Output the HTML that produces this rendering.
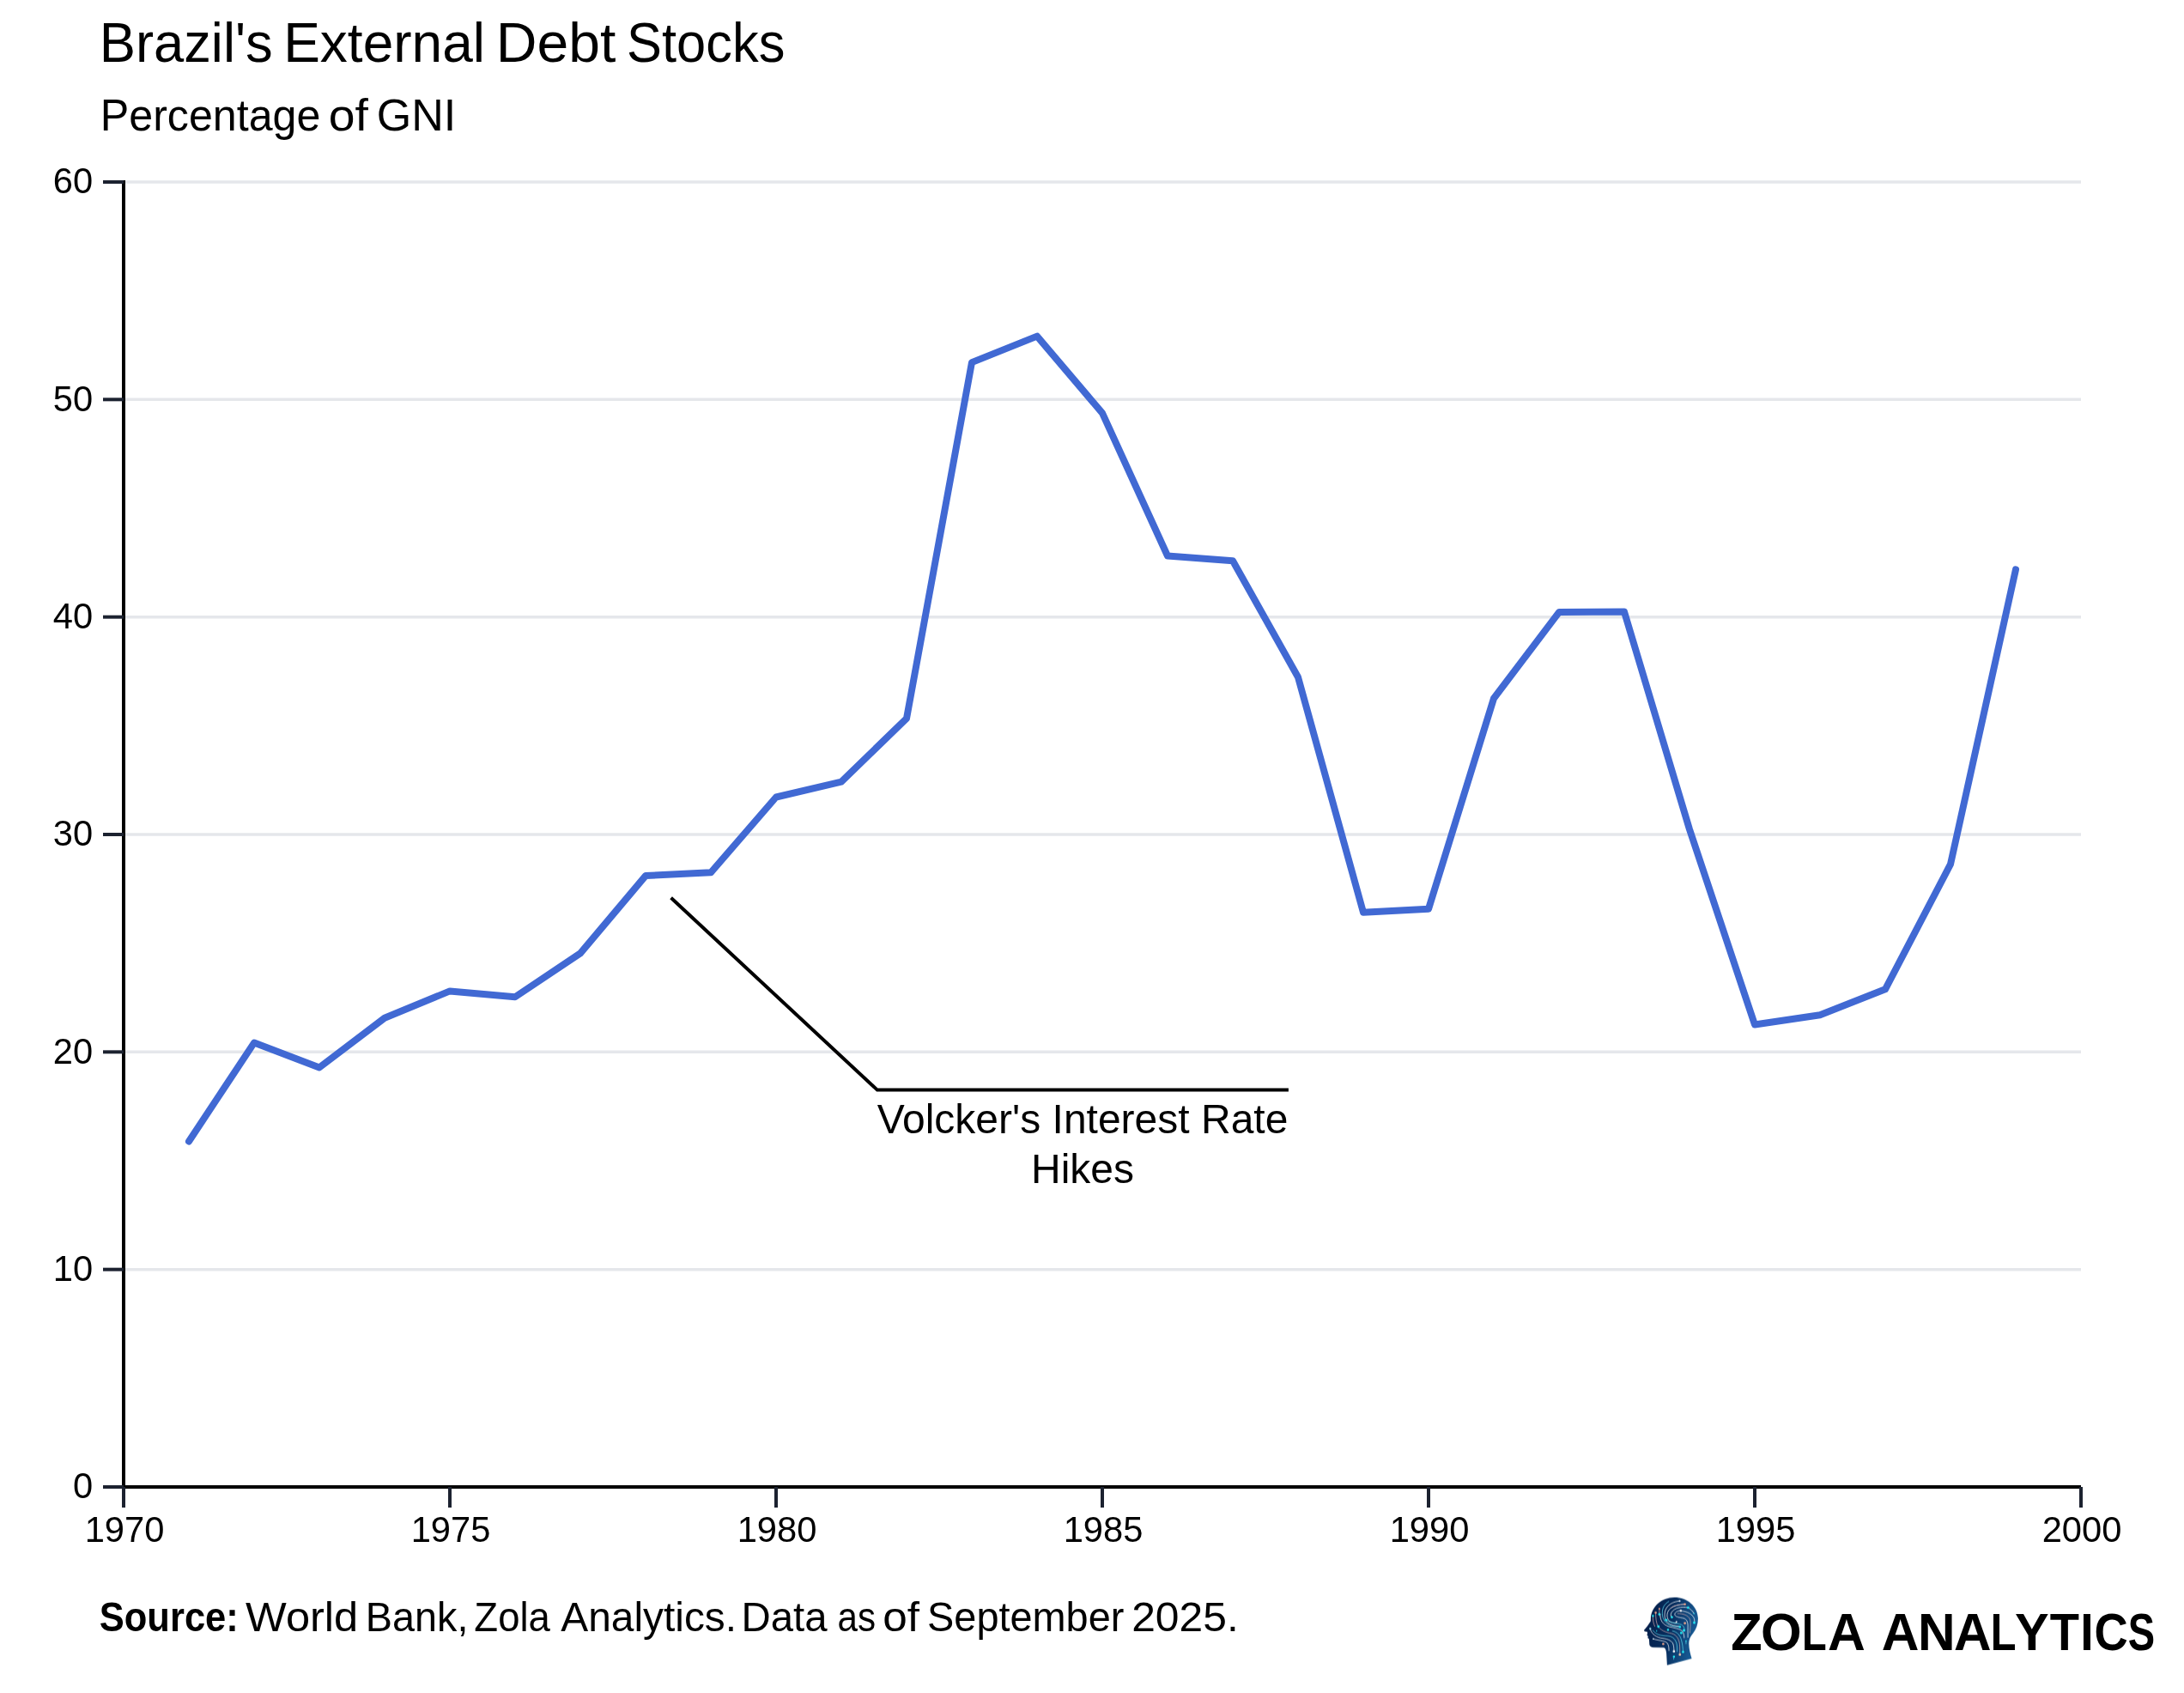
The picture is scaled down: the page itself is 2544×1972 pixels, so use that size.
<!DOCTYPE html>
<html><head><meta charset="utf-8"><style>
html,body{margin:0;padding:0;background:#fff;}
body{width:2544px;height:1972px;overflow:hidden;position:relative;}
svg{position:absolute;left:0;top:0;will-change:transform;}
text{font-family:"Liberation Sans",sans-serif;}
</style></head><body>
<svg width="2544" height="1972" viewBox="0 0 2544 1972">
<rect width="2544" height="1972" fill="#fff"/>

<text x="115.71" y="72.10" font-size="64" font-weight="normal" fill="#000" textLength="201.98" lengthAdjust="spacingAndGlyphs">Brazil's</text>
<text x="330.15" y="72.10" font-size="64" font-weight="normal" fill="#000" textLength="234.83" lengthAdjust="spacingAndGlyphs">External</text>
<text x="577.88" y="72.10" font-size="64" font-weight="normal" fill="#000" textLength="139.61" lengthAdjust="spacingAndGlyphs">Debt</text>
<text x="730.11" y="72.10" font-size="64" font-weight="normal" fill="#000" textLength="184.21" lengthAdjust="spacingAndGlyphs">Stocks</text>
<text x="116.79" y="151.90" font-size="52" font-weight="normal" fill="#000" textLength="256.54" lengthAdjust="spacingAndGlyphs">Percentage</text>
<text x="382.68" y="151.90" font-size="52" font-weight="normal" fill="#000" textLength="46.14" lengthAdjust="spacingAndGlyphs">of</text>
<text x="438.78" y="151.90" font-size="52" font-weight="normal" fill="#000" textLength="92.52" lengthAdjust="spacingAndGlyphs">GNI</text>
<line x1="144" y1="1478.67" x2="2424" y2="1478.67" stroke="#e5e7eb" stroke-width="3.5"/>
<line x1="144" y1="1225.33" x2="2424" y2="1225.33" stroke="#e5e7eb" stroke-width="3.5"/>
<line x1="144" y1="972.00" x2="2424" y2="972.00" stroke="#e5e7eb" stroke-width="3.5"/>
<line x1="144" y1="718.67" x2="2424" y2="718.67" stroke="#e5e7eb" stroke-width="3.5"/>
<line x1="144" y1="465.34" x2="2424" y2="465.34" stroke="#e5e7eb" stroke-width="3.5"/>
<line x1="144" y1="212.00" x2="2424" y2="212.00" stroke="#e5e7eb" stroke-width="3.5"/>
<line x1="144" y1="210.00" x2="144" y2="1734" stroke="#000" stroke-width="4"/>
<line x1="142" y1="1732" x2="2424" y2="1732" stroke="#000" stroke-width="4"/>
<line x1="120" y1="1732.00" x2="144" y2="1732.00" stroke="#1c2230" stroke-width="4"/>
<line x1="120" y1="1478.67" x2="144" y2="1478.67" stroke="#1c2230" stroke-width="4"/>
<line x1="120" y1="1225.33" x2="144" y2="1225.33" stroke="#1c2230" stroke-width="4"/>
<line x1="120" y1="972.00" x2="144" y2="972.00" stroke="#1c2230" stroke-width="4"/>
<line x1="120" y1="718.67" x2="144" y2="718.67" stroke="#1c2230" stroke-width="4"/>
<line x1="120" y1="465.34" x2="144" y2="465.34" stroke="#1c2230" stroke-width="4"/>
<line x1="120" y1="212.00" x2="144" y2="212.00" stroke="#1c2230" stroke-width="4"/>
<line x1="144" y1="1732" x2="144" y2="1756" stroke="#1c2230" stroke-width="4"/>
<line x1="524" y1="1732" x2="524" y2="1756" stroke="#1c2230" stroke-width="4"/>
<line x1="904" y1="1732" x2="904" y2="1756" stroke="#1c2230" stroke-width="4"/>
<line x1="1284" y1="1732" x2="1284" y2="1756" stroke="#1c2230" stroke-width="4"/>
<line x1="1664" y1="1732" x2="1664" y2="1756" stroke="#1c2230" stroke-width="4"/>
<line x1="2044" y1="1732" x2="2044" y2="1756" stroke="#1c2230" stroke-width="4"/>
<line x1="2424" y1="1732" x2="2424" y2="1756" stroke="#1c2230" stroke-width="4"/>
<text x="108.2" y="1745.30" font-size="41.7" text-anchor="end" fill="#000">0</text>
<text x="108.2" y="1491.97" font-size="41.7" text-anchor="end" fill="#000">10</text>
<text x="108.2" y="1238.63" font-size="41.7" text-anchor="end" fill="#000">20</text>
<text x="108.2" y="985.30" font-size="41.7" text-anchor="end" fill="#000">30</text>
<text x="108.2" y="731.97" font-size="41.7" text-anchor="end" fill="#000">40</text>
<text x="108.2" y="478.64" font-size="41.7" text-anchor="end" fill="#000">50</text>
<text x="108.2" y="225.30" font-size="41.7" text-anchor="end" fill="#000">60</text>
<text x="145.00" y="1795.5" font-size="41.7" text-anchor="middle" fill="#000">1970</text>
<text x="525.00" y="1795.5" font-size="41.7" text-anchor="middle" fill="#000">1975</text>
<text x="905.00" y="1795.5" font-size="41.7" text-anchor="middle" fill="#000">1980</text>
<text x="1285.00" y="1795.5" font-size="41.7" text-anchor="middle" fill="#000">1985</text>
<text x="1665.00" y="1795.5" font-size="41.7" text-anchor="middle" fill="#000">1990</text>
<text x="2045.00" y="1795.5" font-size="41.7" text-anchor="middle" fill="#000">1995</text>
<text x="2425.00" y="1795.5" font-size="41.7" text-anchor="middle" fill="#000">2000</text>
<path d="M220,1329.5 L296,1214.6 L372,1243.4 L448,1185.7 L524,1154.4 L600,1161.3 L676,1110.4 L752,1020.1 L828,1016.3 L904,928.5 L980,910.6 L1056,836.9 L1132,422.1 L1208,391.6 L1284,481.1 L1360,647.5 L1436,653.2 L1512,788.7 L1588,1062.7 L1664,1058.8 L1740,813.5 L1816,713.1 L1892,712.6 L1968,966 L2044,1193.5 L2120,1182.2 L2196,1152.3 L2272,1006.7 L2348,663.4" fill="none" stroke="#4169d3" stroke-width="8" stroke-linecap="round" stroke-linejoin="round"/>
<polyline points="781.6,1045.8 1021.9,1269.6 1500.9,1269.6" fill="none" stroke="#000" stroke-width="4"/>
<text x="1261" y="1320" font-size="48" text-anchor="middle" fill="#000">Volcker&#39;s Interest Rate</text>
<text x="1261" y="1378" font-size="48" text-anchor="middle" fill="#000">Hikes</text>
<text x="115.75" y="1900.20" font-size="48" font-weight="bold" fill="#000" textLength="162.04" lengthAdjust="spacingAndGlyphs">Source:</text>
<text x="286.08" y="1900.20" font-size="48" font-weight="normal" fill="#000" textLength="131.16" lengthAdjust="spacingAndGlyphs">World</text>
<text x="425.87" y="1900.20" font-size="48" font-weight="normal" fill="#000" textLength="119.53" lengthAdjust="spacingAndGlyphs">Bank,</text>
<text x="552.36" y="1900.20" font-size="48" font-weight="normal" fill="#000" textLength="88.44" lengthAdjust="spacingAndGlyphs">Zola</text>
<text x="653.31" y="1900.20" font-size="48" font-weight="normal" fill="#000" textLength="204.76" lengthAdjust="spacingAndGlyphs">Analytics.</text>
<text x="863.62" y="1900.20" font-size="48" font-weight="normal" fill="#000" textLength="99.98" lengthAdjust="spacingAndGlyphs">Data</text>
<text x="975.51" y="1900.20" font-size="48" font-weight="normal" fill="#000" textLength="44.51" lengthAdjust="spacingAndGlyphs">as</text>
<text x="1028.35" y="1900.20" font-size="48" font-weight="normal" fill="#000" textLength="42.78" lengthAdjust="spacingAndGlyphs">of</text>
<text x="1080.07" y="1900.20" font-size="48" font-weight="normal" fill="#000" textLength="229.31" lengthAdjust="spacingAndGlyphs">September</text>
<text x="1318.20" y="1900.20" font-size="48" font-weight="normal" fill="#000" textLength="124.55" lengthAdjust="spacingAndGlyphs">2025.</text>


<text x="2016.23" y="1921.80" font-size="60.5" font-weight="bold" fill="#000" textLength="36.39" lengthAdjust="spacingAndGlyphs">Z</text>
<text x="2050.99" y="1921.80" font-size="60.5" font-weight="bold" fill="#000" textLength="47.69" lengthAdjust="spacingAndGlyphs">O</text>
<text x="2098.96" y="1921.80" font-size="60.5" font-weight="bold" fill="#000" textLength="28.69" lengthAdjust="spacingAndGlyphs">L</text>
<text x="2128.89" y="1921.80" font-size="60.5" font-weight="bold" fill="#000" textLength="43.81" lengthAdjust="spacingAndGlyphs">A</text>
<text x="2191.69" y="1921.80" font-size="60.5" font-weight="bold" fill="#000" textLength="43.70" lengthAdjust="spacingAndGlyphs">A</text>
<text x="2233.96" y="1921.80" font-size="60.5" font-weight="bold" fill="#000" textLength="43.61" lengthAdjust="spacingAndGlyphs">N</text>
<text x="2276.10" y="1921.80" font-size="60.5" font-weight="bold" fill="#000" textLength="43.59" lengthAdjust="spacingAndGlyphs">A</text>
<text x="2318.64" y="1921.80" font-size="60.5" font-weight="bold" fill="#000" textLength="29.76" lengthAdjust="spacingAndGlyphs">L</text>
<text x="2346.88" y="1921.80" font-size="60.5" font-weight="bold" fill="#000" textLength="39.68" lengthAdjust="spacingAndGlyphs">Y</text>
<text x="2387.67" y="1921.80" font-size="60.5" font-weight="bold" fill="#000" textLength="34.23" lengthAdjust="spacingAndGlyphs">T</text>
<text x="2423.28" y="1921.80" font-size="60.5" font-weight="bold" fill="#000" textLength="15.43" lengthAdjust="spacingAndGlyphs">I</text>
<text x="2439.57" y="1921.80" font-size="60.5" font-weight="bold" fill="#000" textLength="39.21" lengthAdjust="spacingAndGlyphs">C</text>
<text x="2478.64" y="1921.80" font-size="60.5" font-weight="bold" fill="#000" textLength="31.39" lengthAdjust="spacingAndGlyphs">S</text>
<svg x="1910" y="1855" width="70" height="90" viewBox="0 0 1317 1693">
<defs><linearGradient id="hg" x1="0" y1="0" x2="1" y2="0.25">
<stop offset="0" stop-color="#041a44"/><stop offset="0.55" stop-color="#082e5e"/><stop offset="1" stop-color="#185a93"/></linearGradient></defs>
<path fill="url(#hg)" d="M600 1590 L1140 1445 C1110 1350 1080 1230 1078 1120 C1076 1030 1110 960 1170 890 C1240 800 1280 690 1278 560 C1270 300 1040 105 760 105 C470 105 255 320 242 560 L240 625 L180 715 C150 760 110 800 95 822 C90 840 110 852 150 858 L170 868 C172 895 160 915 158 932 L185 958 C178 972 172 985 180 998 L203 1015 C210 1050 208 1090 212 1135 C218 1175 250 1200 300 1203 L530 1205 C565 1220 578 1260 585 1330 Z"/>
<g fill="none" stroke-width="14" stroke-linecap="round">
<path stroke="#5cd9ee" d="M635 195 C545 245 492 335 495 455 C498 590 565 690 700 728 C760 745 830 750 880 752"/>
<path stroke="#f2f5f8" d="M875 185 C730 195 600 270 560 395 C530 500 550 600 610 660 C690 720 800 735 860 740"/>
<path stroke="#f2f5f8" d="M990 255 C860 260 720 290 640 380 C590 450 590 540 630 600 C660 650 740 670 800 665"/>
<path stroke="#c8a2a6" d="M990 258 C870 262 760 275 690 330"/>
<path stroke="#f2f5f8" d="M1060 330 C900 300 760 340 700 430 C670 480 680 525 705 540"/>
<path stroke="#f2f5f8" d="M900 395 C810 400 760 440 770 490 C785 535 880 545 960 560 C1040 585 1060 660 1055 760 L1055 980"/>
<path stroke="#c8a2a6" d="M830 460 C960 455 1060 500 1100 580 C1120 640 1110 720 1100 880"/>
<path stroke="#f2f5f8" d="M1060 330 C1120 360 1165 410 1190 460"/>
<path stroke="#f2f5f8" d="M900 400 C1040 410 1150 470 1190 560 C1205 600 1200 640 1195 660"/>
<path stroke="#f2f5f8" d="M230 790 C250 880 320 960 460 995 C590 1010 690 1040 730 1120 C750 1180 750 1240 750 1290"/>
<path stroke="#5cd9ee" d="M290 830 C350 920 460 945 620 950 C740 960 800 1050 815 1150 C822 1210 820 1260 820 1290"/>
<path stroke="#c8a2a6" d="M410 745 C450 820 560 870 700 895 C810 925 860 1020 875 1130 C880 1220 880 1300 880 1360"/>
<path stroke="#f2f5f8" d="M300 1015 C400 1050 540 1050 600 1100 C640 1150 640 1230 640 1270"/>
<path stroke="#5cd9ee" d="M720 840 C820 860 880 930 910 1030 C940 1130 948 1220 950 1300"/>
<path stroke="#f2f5f8" d="M450 470 C440 600 500 700 640 745 C760 775 860 790 920 830 C960 870 975 930 975 990"/>
<path stroke="#5cd9ee" d="M580 600 C640 660 760 665 880 690 C960 710 985 770 975 830"/>
<path stroke="#c8a2a6" d="M430 355 C430 420 430 470 440 520"/>
<path stroke="#c8a2a6" d="M350 440 C350 560 360 660 400 740"/>
<path stroke="#c8a2a6" d="M290 510 C285 600 300 680 330 740"/>
<path stroke="#5cd9ee" d="M1015 1060 L1015 1120"/>
<path stroke="#5cd9ee" d="M750 1400 L745 1460"/>
</g>
<g>
<circle cx="875" cy="185" r="20" fill="#f2f5f8"/>
<circle cx="990" cy="255" r="24" fill="#f0a58a"/>
<circle cx="1060" cy="330" r="26" fill="#22e8f2"/>
<circle cx="900" cy="395" r="24" fill="#f4f6f8"/>
<circle cx="1190" cy="460" r="14" fill="#22e8f2"/>
<circle cx="1195" cy="660" r="26" fill="#22e8f2"/>
<circle cx="430" cy="355" r="20" fill="#f0a58a"/>
<circle cx="350" cy="440" r="24" fill="#f0a58a"/>
<circle cx="430" cy="475" r="26" fill="#22e8f2"/>
<circle cx="290" cy="510" r="22" fill="#22e8f2"/>
<circle cx="705" cy="540" r="26" fill="#22e8f2"/>
<circle cx="580" cy="600" r="26" fill="#22e8f2"/>
<circle cx="805" cy="640" r="18" fill="#f4f6f8"/>
<circle cx="990" cy="670" r="26" fill="#f0a58a"/>
<circle cx="880" cy="752" r="24" fill="#22e8f2"/>
<circle cx="410" cy="745" r="28" fill="#22e8f2"/>
<circle cx="230" cy="790" r="22" fill="#a8e4ef"/>
<circle cx="620" cy="815" r="24" fill="#22e8f2"/>
<circle cx="370" cy="840" r="14" fill="#22e8f2"/>
<circle cx="970" cy="830" r="28" fill="#22e8f2"/>
<circle cx="910" cy="885" r="26" fill="#22e8f2"/>
<circle cx="300" cy="1015" r="18" fill="#d8eef3"/>
<circle cx="1015" cy="1060" r="14" fill="#22e8f2"/>
<circle cx="515" cy="1125" r="24" fill="#f0a58a"/>
<circle cx="750" cy="1290" r="26" fill="#f4f6f8"/>
<circle cx="950" cy="1300" r="26" fill="#22e8f2"/>
<circle cx="880" cy="1360" r="26" fill="#f5c9a8"/>
<circle cx="750" cy="1405" r="24" fill="#22e8f2"/>
</g>
</svg>

</svg></body></html>
